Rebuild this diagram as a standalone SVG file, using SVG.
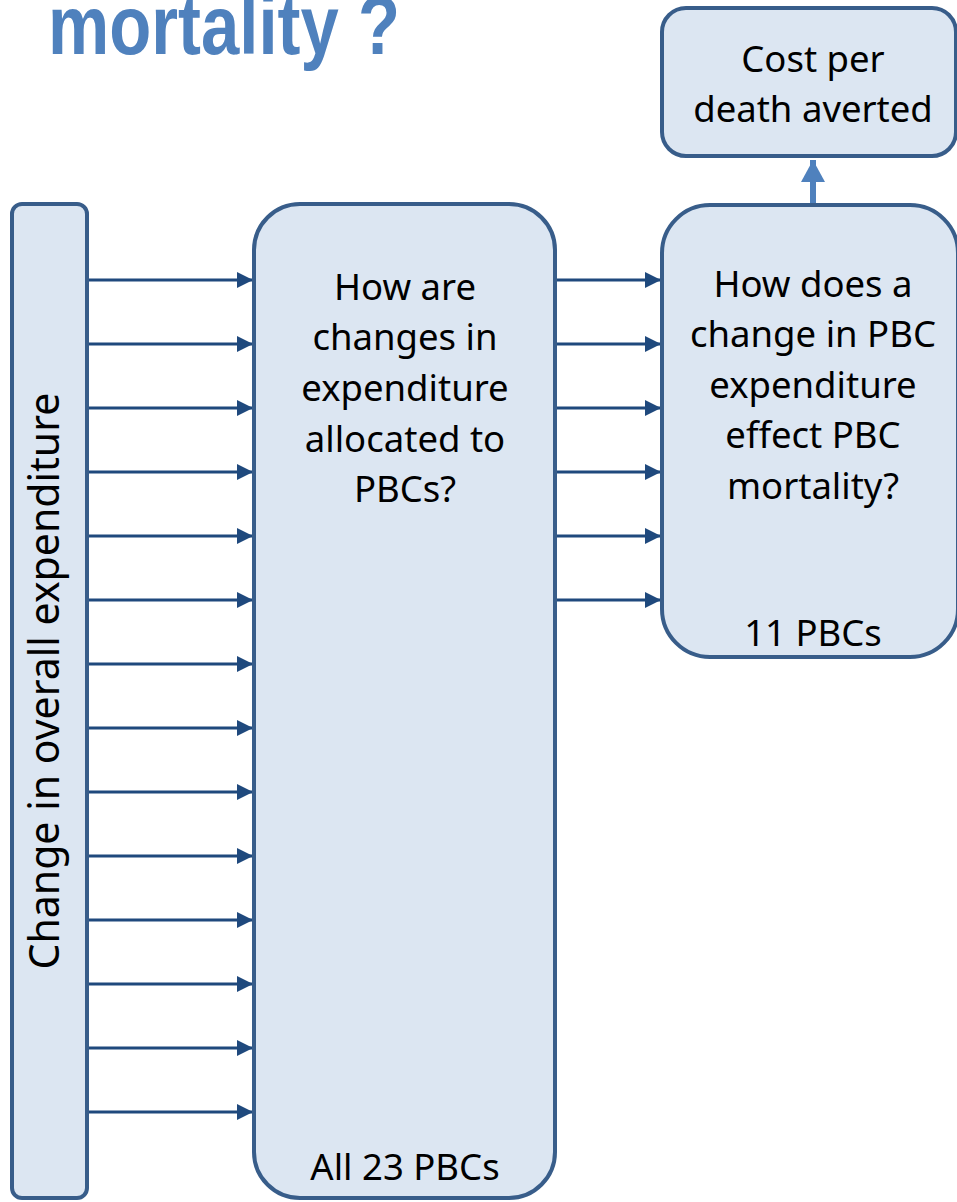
<svg xmlns="http://www.w3.org/2000/svg" width="957" height="1202" viewBox="0 0 957 1202">
<style>
.box{fill:#DCE6F2;stroke:#385D8A;stroke-width:4}
.t{font-family:"Noto Sans","Open Sans",sans-serif;font-size:36.5px;fill:#000;text-anchor:middle}
.c{stroke:#1F497D;stroke-width:3;fill:none;marker-end:url(#ah)}
</style>
<defs>
<marker id="ah" markerUnits="userSpaceOnUse" markerWidth="16" markerHeight="16" refX="16" refY="8" orient="auto">
<path d="M0,0 L16,8 L0,16 Z" fill="#1F497D"/>
</marker>
<marker id="ahu" markerUnits="userSpaceOnUse" markerWidth="24" markerHeight="24" refX="22" refY="12" orient="auto">
<path d="M0,0 L22,12 L0,24 Z" fill="#4F81BD"/>
</marker>
</defs>
<text x="48" y="54" font-family="Liberation Sans, Arial, sans-serif" font-weight="bold" font-size="84" fill="#4F81BD" textLength="352" lengthAdjust="spacingAndGlyphs">mortality ?</text>
<g id="connectors">
<path class="c" d="M88,280H253"/>
<path class="c" d="M88,344H253"/>
<path class="c" d="M88,408H253"/>
<path class="c" d="M88,472H253"/>
<path class="c" d="M88,536H253"/>
<path class="c" d="M88,600H253"/>
<path class="c" d="M88,664H253"/>
<path class="c" d="M88,728H253"/>
<path class="c" d="M88,792H253"/>
<path class="c" d="M88,856H253"/>
<path class="c" d="M88,920H253"/>
<path class="c" d="M88,984H253"/>
<path class="c" d="M88,1048H253"/>
<path class="c" d="M88,1112H253"/>
<path class="c" d="M557,280H661"/>
<path class="c" d="M557,344H661"/>
<path class="c" d="M557,408H661"/>
<path class="c" d="M557,472H661"/>
<path class="c" d="M557,536H661"/>
<path class="c" d="M557,600H661"/>
<path d="M813,204V160" stroke="#4F81BD" stroke-width="6" fill="none" marker-end="url(#ahu)"/>
</g>
<g id="overall">
<rect class="box" x="12" y="204" width="75" height="994" rx="10"/>
<text class="t" style="font-size:41px" transform="translate(59,681) rotate(-90)" x="0" y="0">Change in overall expenditure</text>
</g>
<g id="allocation">
<rect class="box" x="254" y="204" width="301" height="994" rx="46"/>
<text class="t" x="405" y="300">How are</text>
<text class="t" x="405" y="350">changes in</text>
<text class="t" x="405" y="401">expenditure</text>
<text class="t" x="405" y="452">allocated to</text>
<text class="t" x="405" y="502">PBCs?</text>
<text class="t" x="405" y="1180">All 23 PBCs</text>
</g>
<g id="effect">
<rect class="box" x="662" y="205" width="296" height="452" rx="48"/>
<text class="t" x="813" y="297">How does a</text>
<text class="t" x="813" y="347">change in PBC</text>
<text class="t" x="813" y="398">expenditure</text>
<text class="t" x="813" y="448">effect PBC</text>
<text class="t" x="813" y="499">mortality?</text>
<text class="t" x="813" y="646">11 PBCs</text>
</g>
<g id="cost">
<rect class="box" x="662" y="8" width="294" height="148" rx="24"/>
<text class="t" x="813" y="72">Cost per</text>
<text class="t" x="813" y="122">death averted</text>
</g>
</svg>
